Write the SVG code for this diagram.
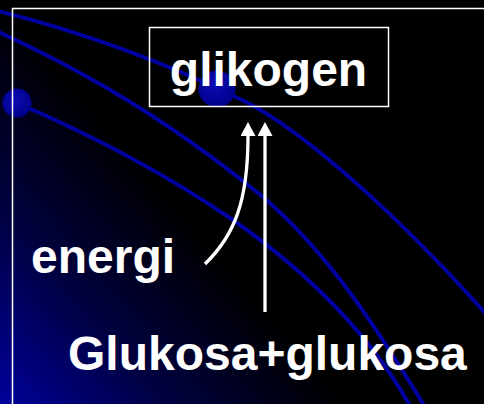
<svg xmlns="http://www.w3.org/2000/svg" width="484" height="404" viewBox="0 0 484 404">
  <defs>
    <linearGradient id="bg" gradientUnits="userSpaceOnUse" x1="0" y1="404" x2="200" y2="232">
      <stop offset="0" stop-color="#00009a"/>
      <stop offset="0.5" stop-color="#00003e"/>
      <stop offset="1" stop-color="#000000"/>
    </linearGradient>
    <radialGradient id="dot" cx="0.45" cy="0.4" r="0.6">
      <stop offset="0" stop-color="#0c0cb4"/>
      <stop offset="1" stop-color="#00008a"/>
    </radialGradient>
    <marker id="arrow" markerUnits="userSpaceOnUse" markerWidth="14" markerHeight="15" refX="0" refY="7.5" orient="auto">
      <path d="M0,0 L14,7.5 L0,15 z" fill="#ffffff"/>
    </marker>
    <style>
      .arc { fill: none; stroke: #0000a0; stroke-width: 4; stroke-linecap: round; }
      .lbl { font-family: "Liberation Sans", Arial, sans-serif; font-weight: bold; font-size: 48px; fill: #ffffff; }
      .frame { fill: none; stroke: #ffffff; stroke-width: 1.5; }
      .conn { fill: none; stroke: #ffffff; stroke-width: 3.3; marker-end: url(#arrow); }
    </style>
  </defs>

  <g id="background">
    <rect x="0" y="0" width="484" height="404" fill="url(#bg)"/>
    <path class="arc" d="M-10,9 C60,26 150,55 242,100 C300,128 400,215 500,330"/>
    <path class="arc" d="M-10,28 C60,60 150,105 263,197 C330,255 375,325 430,415"/>
    <path class="arc" d="M17,103 C80,130 160,170 233,220 C300,267 370,330 415,415"/>
    <circle cx="17" cy="103" r="14.5" fill="url(#dot)"/>
    <circle cx="217" cy="89" r="18.5" fill="url(#dot)"/>
    <rect class="frame" x="12.5" y="8.5" width="520" height="440"/>
  </g>

  <g id="glikogen">
    <rect class="frame" x="149.5" y="27.5" width="239" height="79"/>
    <text class="lbl" x="268.5" y="86" text-anchor="middle">glikogen</text>
  </g>

  <g id="energi">
    <text class="lbl" x="31" y="273">energi</text>
  </g>

  <g id="glukosa">
    <text class="lbl" x="68" y="370">Glukosa+glukosa</text>
  </g>

  <g id="connectors">
    <path class="conn" d="M205,264 C235,235 248,200 248,136"/>
    <path class="conn" d="M265,312 V136"/>
  </g>
</svg>
